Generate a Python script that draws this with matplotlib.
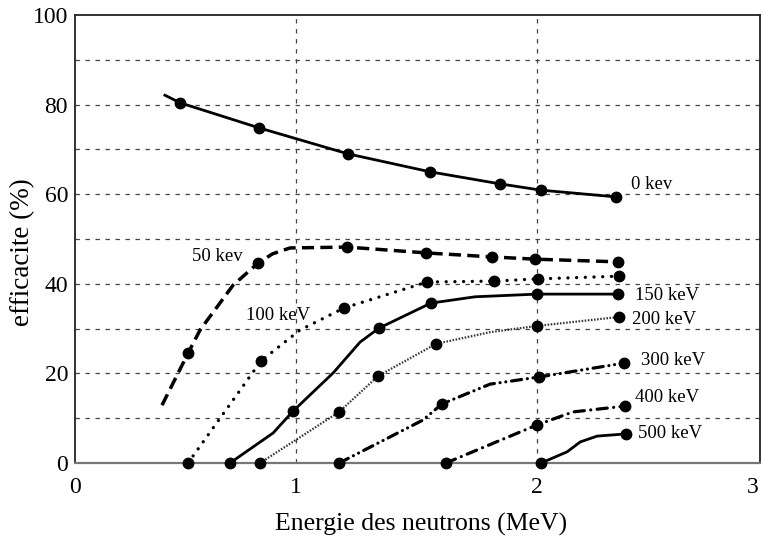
import matplotlib.pyplot as plt

plt.rcParams['font.family'] = ['Liberation Serif', 'DejaVu Serif']

# Courbes (noeuds de la courbe) et points mesures (mark=1)
e0_x = [0.458, 0.521, 0.849, 1.218, 1.558, 1.849, 2.019, 2.330]
e0_y = [82.1, 80.4, 74.8, 69.0, 65.0, 62.3, 60.9, 59.4]
e0_m = [0, 1, 1, 1, 1, 1, 1, 1]

e50_x = [0.446, 0.554, 0.604, 0.741, 0.844, 0.905, 0.977, 1.214, 1.541, 1.815, 1.994, 2.338]
e50_y = [12.9, 24.5, 29.7, 39.7, 44.6, 46.7, 48.0, 48.2, 46.9, 46.0, 45.5, 44.9]
e50_m = [0, 1, 0, 0, 1, 0, 0, 1, 1, 1, 1, 1]

e100_x = [0.554, 0.857, 1.019, 1.201, 1.546, 1.824, 2.006, 2.342]
e100_y = [0.0, 22.8, 29.7, 34.6, 40.4, 40.6, 41.1, 41.7]
e100_m = [1, 1, 0, 1, 1, 1, 1, 1]

e150_x = [0.728, 0.907, 0.990, 1.156, 1.268, 1.346, 1.562, 1.745, 2.002, 2.338]
e150_y = [0.0, 6.7, 11.6, 20.1, 27.0, 30.1, 35.7, 37.1, 37.7, 37.7]
e150_m = [1, 0, 1, 0, 0, 1, 1, 0, 1, 1]

e200_x = [0.853, 1.181, 1.342, 1.583, 1.807, 2.002, 2.342]
e200_y = [0.0, 11.4, 19.4, 26.6, 29.2, 30.6, 32.6]
e200_m = [1, 1, 1, 1, 0, 1, 1]

e300_x = [1.181, 1.529, 1.608, 1.807, 2.010, 2.363]
e300_y = [0.0, 9.6, 13.2, 17.6, 19.2, 22.3]
e300_m = [1, 0, 1, 0, 1, 1]

e400_x = [1.624, 2.002, 2.151, 2.367]
e400_y = [0.0, 8.5, 11.4, 12.7]
e400_m = [1, 1, 0, 1]

e500_x = [2.019, 2.127, 2.181, 2.251, 2.371]
e500_y = [0.0, 2.5, 4.7, 6.0, 6.5]
e500_m = [1, 0, 0, 0, 1]

labels = ["0 kev", "50 kev", "100 keV", "150 keV", "200 keV", "300 keV", "400 keV", "500 keV"]
label_x = [2.390, 0.571, 0.795, 2.409, 2.396, 2.433, 2.409, 2.421]
label_y = [62.1, 46.0, 33.0, 37.3, 32.1, 22.8, 14.7, 6.5]

series = [
    (e0_x, e0_y, e0_m, dict(ls='-', lw=2.0)),
    (e50_x, e50_y, e50_m, dict(ls=(0, (3.5, 1.8)), lw=2.5)),
    (e100_x, e100_y, e100_m, dict(ls=(0, (0.01, 2.6)), lw=2.4, dash_capstyle='round')),
    (e150_x, e150_y, e150_m, dict(ls='-', lw=2.0)),
    (e200_x, e200_y, e200_m, dict(ls=(0, (0.7, 0.7)), lw=1.6, color='#333333')),
    (e300_x, e300_y, e300_m, dict(ls=(0, (3.2, 1.8, 0.01, 1.8, 0.01, 1.8)), lw=2.3, dash_capstyle='round')),
    (e400_x, e400_y, e400_m, dict(ls=(0, (3.2, 2.0, 0.01, 2.0)), lw=2.3, dash_capstyle='round')),
    (e500_x, e500_y, e500_m, dict(ls='-', lw=2.0)),
]

fig = plt.figure(figsize=(7.62, 5.4), dpi=100)
ax = fig.add_axes([75 / 762, 77 / 540, 685 / 762, 448 / 540])

# l'original est legerement deforme : 1 et 2 places sur les lignes de la grille
x_lo, x_hi = 0.085, 2.927
ax.set_xlim(x_lo, x_hi)
ax.set_ylim(0, 100)

for y in range(10, 100, 10):
    ax.axhline(y, color='#444444', lw=0.9, ls=(0, (3.5, 4.5)), zorder=1)
for x in [1, 2]:
    ax.axvline(x, color='#444444', lw=0.9, ls=(0, (3.5, 4.5)), zorder=1)

for xs, ys, ms, style in series:
    style.setdefault('color', 'black')
    ax.plot(xs, ys, zorder=3, clip_on=False, **style)
    px = [x for x, m in zip(xs, ms) if m]
    py = [y for y, m in zip(ys, ms) if m]
    ax.plot(px, py, 'o', color='black', ms=7.5, zorder=4, clip_on=False)

for t, x, y in zip(labels, label_x, label_y):
    ax.text(x, y, t, fontsize=13.5, ha='left', va='center')

ax.set_xticks([x_lo, 1, 2, x_hi - 0.03], labels=['0', '1', '2', '3'])
ax.set_yticks(range(0, 101, 20))
ax.tick_params(length=0, labelsize=17)
ax.tick_params(axis='x', pad=10)
ax.tick_params(axis='y', pad=5)

for s in ['top', 'left', 'right']:
    ax.spines[s].set_color('#222222')
    ax.spines[s].set_linewidth(1.3)
ax.spines['bottom'].set_color('#777777')
ax.spines['bottom'].set_linewidth(1.6)

ax.set_xlabel("Energie des neutrons (MeV)", fontsize=18.5)
ax.set_ylabel("efficacite (%)", fontsize=19.5)
ax.xaxis.set_label_coords(0.505, -0.112)
ax.yaxis.set_label_coords(-0.058, 0.471)

fig.savefig("out.png", dpi=100)
